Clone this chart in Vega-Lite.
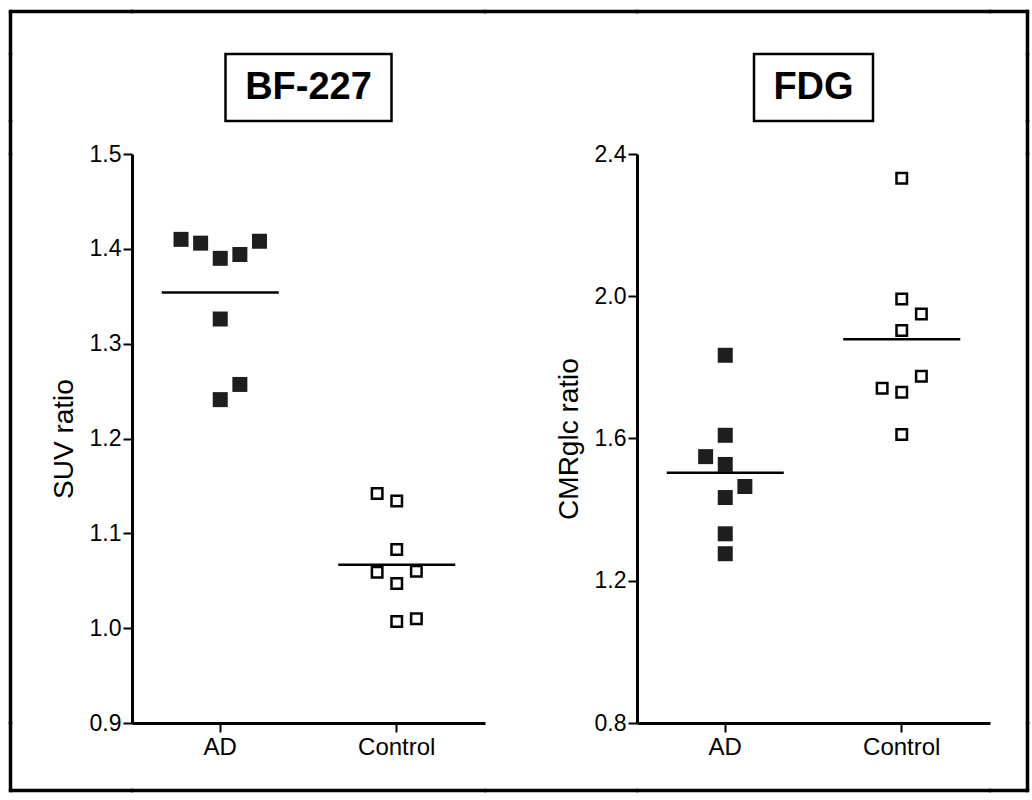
{
  "$schema": "https://vega.github.io/schema/vega-lite/v6.json",
  "padding": {"left": 8, "top": 4, "right": 0, "bottom": 0},
  "bounds": "flush",
  "spacing": 0,
  "columns": 7,
  "config": {
    "view": {"stroke": null},
    "font": "Liberation Sans",
    "axis": {
      "grid": false,
      "domainColor": "black",
      "domainWidth": 3,
      "tickColor": "black",
      "tickWidth": 2,
      "tickSize": 9,
      "labelColor": "black",
      "labelFont": "Liberation Sans",
      "titleFont": "Liberation Sans",
      "titleColor": "black",
      "titleFontWeight": "normal",
      "titleFontSize": 28,
      "labelPadding": 2,
      "titlePadding": 11
    }
  },
  "datasets": {
    "blank": [{"t": ""}],
    "bf": [
      {"group": "AD", "value": 1.410, "col": -2},
      {"group": "AD", "value": 1.406, "col": -1},
      {"group": "AD", "value": 1.390, "col": 0},
      {"group": "AD", "value": 1.394, "col": 1},
      {"group": "AD", "value": 1.408, "col": 2},
      {"group": "AD", "value": 1.326, "col": 0},
      {"group": "AD", "value": 1.257, "col": 1},
      {"group": "AD", "value": 1.241, "col": 0},
      {"group": "Control", "value": 1.142, "col": -1},
      {"group": "Control", "value": 1.134, "col": 0},
      {"group": "Control", "value": 1.083, "col": 0},
      {"group": "Control", "value": 1.059, "col": -1},
      {"group": "Control", "value": 1.060, "col": 1},
      {"group": "Control", "value": 1.047, "col": 0},
      {"group": "Control", "value": 1.007, "col": 0},
      {"group": "Control", "value": 1.010, "col": 1}
    ],
    "bfmean": [
      {"group": "AD", "mean": 1.354},
      {"group": "Control", "mean": 1.067}
    ],
    "fdg": [
      {"group": "AD", "value": 1.834, "col": 0},
      {"group": "AD", "value": 1.609, "col": 0},
      {"group": "AD", "value": 1.549, "col": -1},
      {"group": "AD", "value": 1.527, "col": 0},
      {"group": "AD", "value": 1.465, "col": 1},
      {"group": "AD", "value": 1.434, "col": 0},
      {"group": "AD", "value": 1.332, "col": 0},
      {"group": "AD", "value": 1.276, "col": 0},
      {"group": "Control", "value": 2.332, "col": 0},
      {"group": "Control", "value": 1.992, "col": 0},
      {"group": "Control", "value": 1.950, "col": 1},
      {"group": "Control", "value": 1.904, "col": 0},
      {"group": "Control", "value": 1.741, "col": -1},
      {"group": "Control", "value": 1.730, "col": 0},
      {"group": "Control", "value": 1.775, "col": 1},
      {"group": "Control", "value": 1.611, "col": 0}
    ],
    "fdgmean": [
      {"group": "AD", "mean": 1.504},
      {"group": "Control", "mean": 1.879}
    ]
  },
  "concat": [
    {"width": 1, "height": 1, "view": {"stroke": "black", "strokeWidth": 2.5}, "data": {"name": "blank"}, "mark": "text", "encoding": {"text": {"field": "t", "type": "nominal"}}},
    {"width": 121, "height": 1, "view": {"stroke": "black", "strokeWidth": 2.5}, "data": {"name": "blank"}, "mark": "text", "encoding": {"text": {"field": "t", "type": "nominal"}}},
    {"width": 353, "height": 1, "view": {"stroke": "black", "strokeWidth": 2.5}, "data": {"name": "blank"}, "mark": "text", "encoding": {"text": {"field": "t", "type": "nominal"}}},
    {"width": 152, "height": 1, "view": {"stroke": "black", "strokeWidth": 2.5}, "data": {"name": "blank"}, "mark": "text", "encoding": {"text": {"field": "t", "type": "nominal"}}},
    {"width": 353, "height": 1, "view": {"stroke": "black", "strokeWidth": 2.5}, "data": {"name": "blank"}, "mark": "text", "encoding": {"text": {"field": "t", "type": "nominal"}}},
    {"width": 37, "height": 1, "view": {"stroke": "black", "strokeWidth": 2.5}, "data": {"name": "blank"}, "mark": "text", "encoding": {"text": {"field": "t", "type": "nominal"}}},
    {"width": 1, "height": 1, "view": {"stroke": "black", "strokeWidth": 2.5}, "data": {"name": "blank"}, "mark": "text", "encoding": {"text": {"field": "t", "type": "nominal"}}},

    {"width": 1, "height": 42, "view": {"stroke": "black", "strokeWidth": 2.5}, "data": {"name": "blank"}, "mark": "text", "encoding": {"text": {"field": "t", "type": "nominal"}}},
    {"width": 1, "height": 1, "data": {"name": "blank"}, "mark": "text", "encoding": {"text": {"field": "t", "type": "nominal"}}},
    {"width": 1, "height": 1, "data": {"name": "blank"}, "mark": "text", "encoding": {"text": {"field": "t", "type": "nominal"}}},
    {"width": 1, "height": 1, "data": {"name": "blank"}, "mark": "text", "encoding": {"text": {"field": "t", "type": "nominal"}}},
    {"width": 1, "height": 1, "data": {"name": "blank"}, "mark": "text", "encoding": {"text": {"field": "t", "type": "nominal"}}},
    {"width": 1, "height": 1, "data": {"name": "blank"}, "mark": "text", "encoding": {"text": {"field": "t", "type": "nominal"}}},
    {"width": 1, "height": 42, "view": {"stroke": "black", "strokeWidth": 2.5}, "data": {"name": "blank"}, "mark": "text", "encoding": {"text": {"field": "t", "type": "nominal"}}},

    {"width": 1, "height": 67, "view": {"stroke": "black", "strokeWidth": 2.5}, "data": {"name": "blank"}, "mark": "text", "encoding": {"text": {"field": "t", "type": "nominal"}}},
    {"width": 1, "height": 1, "data": {"name": "blank"}, "mark": "text", "encoding": {"text": {"field": "t", "type": "nominal"}}},
    {
      "width": 353,
      "height": 67,
      "data": {"values": [{"t": "BF-227"}]},
      "layer": [
        {"mark": {"type": "point", "shape": "M-1,-0.4036H1V0.4036H-1Z", "size": 27556, "filled": false, "stroke": "black", "strokeWidth": 2.5, "opacity": 1}, "encoding": {}},
        {"mark": {"type": "text", "fontSize": 38, "fontWeight": "bold", "font": "Liberation Sans", "color": "black"}, "encoding": {"text": {"field": "t", "type": "nominal"}}}
      ]
    },
    {"width": 1, "height": 1, "data": {"name": "blank"}, "mark": "text", "encoding": {"text": {"field": "t", "type": "nominal"}}},
    {
      "width": 353,
      "height": 67,
      "data": {"values": [{"t": "FDG"}]},
      "layer": [
        {"mark": {"type": "point", "shape": "M-1,-0.563H1V0.563H-1Z", "size": 14161, "filled": false, "stroke": "black", "strokeWidth": 2.5, "opacity": 1}, "encoding": {}},
        {"mark": {"type": "text", "fontSize": 38, "fontWeight": "bold", "font": "Liberation Sans", "color": "black"}, "encoding": {"text": {"field": "t", "type": "nominal"}}}
      ]
    },
    {"width": 1, "height": 1, "data": {"name": "blank"}, "mark": "text", "encoding": {"text": {"field": "t", "type": "nominal"}}},
    {"width": 1, "height": 67, "view": {"stroke": "black", "strokeWidth": 2.5}, "data": {"name": "blank"}, "mark": "text", "encoding": {"text": {"field": "t", "type": "nominal"}}},

    {"width": 1, "height": 33, "view": {"stroke": "black", "strokeWidth": 2.5}, "data": {"name": "blank"}, "mark": "text", "encoding": {"text": {"field": "t", "type": "nominal"}}},
    {"width": 1, "height": 1, "data": {"name": "blank"}, "mark": "text", "encoding": {"text": {"field": "t", "type": "nominal"}}},
    {"width": 1, "height": 1, "data": {"name": "blank"}, "mark": "text", "encoding": {"text": {"field": "t", "type": "nominal"}}},
    {"width": 1, "height": 1, "data": {"name": "blank"}, "mark": "text", "encoding": {"text": {"field": "t", "type": "nominal"}}},
    {"width": 1, "height": 1, "data": {"name": "blank"}, "mark": "text", "encoding": {"text": {"field": "t", "type": "nominal"}}},
    {"width": 1, "height": 1, "data": {"name": "blank"}, "mark": "text", "encoding": {"text": {"field": "t", "type": "nominal"}}},
    {"width": 1, "height": 33, "view": {"stroke": "black", "strokeWidth": 2.5}, "data": {"name": "blank"}, "mark": "text", "encoding": {"text": {"field": "t", "type": "nominal"}}},

    {"width": 1, "height": 569, "view": {"stroke": "black", "strokeWidth": 2.5}, "data": {"name": "blank"}, "mark": "text", "encoding": {"text": {"field": "t", "type": "nominal"}}},
    {"width": 1, "height": 1, "data": {"name": "blank"}, "mark": "text", "encoding": {"text": {"field": "t", "type": "nominal"}}},
    {
      "width": 353,
      "height": 569,
      "encoding": {
        "x": {"field": "group", "type": "nominal", "sort": ["AD", "Control"],
              "scale": {"type": "band", "paddingInner": 0, "paddingOuter": 0},
              "axis": {"title": null, "labelAngle": 0, "labelFontSize": 24, "labelPadding": 3}},
        "y": {"type": "quantitative",
              "scale": {"domain": [0.9, 1.5], "nice": false, "zero": false},
              "axis": {"title": "SUV ratio", "values": [0.9, 1.0, 1.1, 1.2, 1.3, 1.4, 1.5], "format": ".1f", "labelFontSize": 23}}
      },
      "layer": [
        {
          "data": {"name": "bfmean"},
          "mark": {"type": "tick", "orient": "horizontal", "size": 117, "thickness": 2.5, "color": "black", "opacity": 1},
          "encoding": {"y": {"field": "mean", "type": "quantitative"}}
        },
        {
          "data": {"name": "bf"},
          "transform": [{"filter": "datum.group === 'AD'"}],
          "mark": {"type": "point", "shape": "square", "filled": true, "size": 225, "color": "#1e1e1e", "opacity": 1},
          "encoding": {
            "y": {"field": "value", "type": "quantitative"},
            "xOffset": {"field": "col", "type": "quantitative", "scale": {"domain": [-4.5, 4.5], "range": [0, 176.5]}}
          }
        },
        {
          "data": {"name": "bf"},
          "transform": [{"filter": "datum.group === 'Control'"}],
          "mark": {"type": "point", "shape": "square", "filled": true, "fill": "white", "stroke": "black", "strokeWidth": 2.5, "size": 110, "opacity": 1},
          "encoding": {
            "y": {"field": "value", "type": "quantitative"},
            "xOffset": {"field": "col", "type": "quantitative", "scale": {"domain": [-4.5, 4.5], "range": [0, 176.5]}}
          }
        }
      ]
    },
    {"width": 1, "height": 1, "data": {"name": "blank"}, "mark": "text", "encoding": {"text": {"field": "t", "type": "nominal"}}},
    {
      "width": 353,
      "height": 569,
      "encoding": {
        "x": {"field": "group", "type": "nominal", "sort": ["AD", "Control"],
              "scale": {"type": "band", "paddingInner": 0, "paddingOuter": 0},
              "axis": {"title": null, "labelAngle": 0, "labelFontSize": 24, "labelPadding": 3}},
        "y": {"type": "quantitative",
              "scale": {"domain": [0.8, 2.4], "nice": false, "zero": false},
              "axis": {"title": "CMRglc ratio", "values": [0.8, 1.2, 1.6, 2.0, 2.4], "format": ".1f", "labelFontSize": 23}}
      },
      "layer": [
        {
          "data": {"name": "fdgmean"},
          "mark": {"type": "tick", "orient": "horizontal", "size": 117, "thickness": 2.5, "color": "black", "opacity": 1},
          "encoding": {"y": {"field": "mean", "type": "quantitative"}}
        },
        {
          "data": {"name": "fdg"},
          "transform": [{"filter": "datum.group === 'AD'"}],
          "mark": {"type": "point", "shape": "square", "filled": true, "size": 225, "color": "#1e1e1e", "opacity": 1},
          "encoding": {
            "y": {"field": "value", "type": "quantitative"},
            "xOffset": {"field": "col", "type": "quantitative", "scale": {"domain": [-4.5, 4.5], "range": [0, 176.5]}}
          }
        },
        {
          "data": {"name": "fdg"},
          "transform": [{"filter": "datum.group === 'Control'"}],
          "mark": {"type": "point", "shape": "square", "filled": true, "fill": "white", "stroke": "black", "strokeWidth": 2.5, "size": 110, "opacity": 1},
          "encoding": {
            "y": {"field": "value", "type": "quantitative"},
            "xOffset": {"field": "col", "type": "quantitative", "scale": {"domain": [-4.5, 4.5], "range": [0, 176.5]}}
          }
        }
      ]
    },
    {"width": 1, "height": 1, "data": {"name": "blank"}, "mark": "text", "encoding": {"text": {"field": "t", "type": "nominal"}}},
    {"width": 1, "height": 569, "view": {"stroke": "black", "strokeWidth": 2.5}, "data": {"name": "blank"}, "mark": "text", "encoding": {"text": {"field": "t", "type": "nominal"}}},

    {"width": 1, "height": 67, "view": {"stroke": "black", "strokeWidth": 2.5}, "data": {"name": "blank"}, "mark": "text", "encoding": {"text": {"field": "t", "type": "nominal"}}},
    {"width": 1, "height": 1, "data": {"name": "blank"}, "mark": "text", "encoding": {"text": {"field": "t", "type": "nominal"}}},
    {"width": 1, "height": 1, "data": {"name": "blank"}, "mark": "text", "encoding": {"text": {"field": "t", "type": "nominal"}}},
    {"width": 1, "height": 1, "data": {"name": "blank"}, "mark": "text", "encoding": {"text": {"field": "t", "type": "nominal"}}},
    {"width": 1, "height": 1, "data": {"name": "blank"}, "mark": "text", "encoding": {"text": {"field": "t", "type": "nominal"}}},
    {"width": 1, "height": 1, "data": {"name": "blank"}, "mark": "text", "encoding": {"text": {"field": "t", "type": "nominal"}}},
    {"width": 1, "height": 67, "view": {"stroke": "black", "strokeWidth": 2.5}, "data": {"name": "blank"}, "mark": "text", "encoding": {"text": {"field": "t", "type": "nominal"}}},

    {"width": 1, "height": 1, "view": {"stroke": "black", "strokeWidth": 2.5}, "data": {"name": "blank"}, "mark": "text", "encoding": {"text": {"field": "t", "type": "nominal"}}},
    {"width": 121, "height": 1, "view": {"stroke": "black", "strokeWidth": 2.5}, "data": {"name": "blank"}, "mark": "text", "encoding": {"text": {"field": "t", "type": "nominal"}}},
    {"width": 353, "height": 1, "view": {"stroke": "black", "strokeWidth": 2.5}, "data": {"name": "blank"}, "mark": "text", "encoding": {"text": {"field": "t", "type": "nominal"}}},
    {"width": 152, "height": 1, "view": {"stroke": "black", "strokeWidth": 2.5}, "data": {"name": "blank"}, "mark": "text", "encoding": {"text": {"field": "t", "type": "nominal"}}},
    {"width": 353, "height": 1, "view": {"stroke": "black", "strokeWidth": 2.5}, "data": {"name": "blank"}, "mark": "text", "encoding": {"text": {"field": "t", "type": "nominal"}}},
    {"width": 37, "height": 1, "view": {"stroke": "black", "strokeWidth": 2.5}, "data": {"name": "blank"}, "mark": "text", "encoding": {"text": {"field": "t", "type": "nominal"}}},
    {"width": 1, "height": 1, "view": {"stroke": "black", "strokeWidth": 2.5}, "data": {"name": "blank"}, "mark": "text", "encoding": {"text": {"field": "t", "type": "nominal"}}}
  ]
}
